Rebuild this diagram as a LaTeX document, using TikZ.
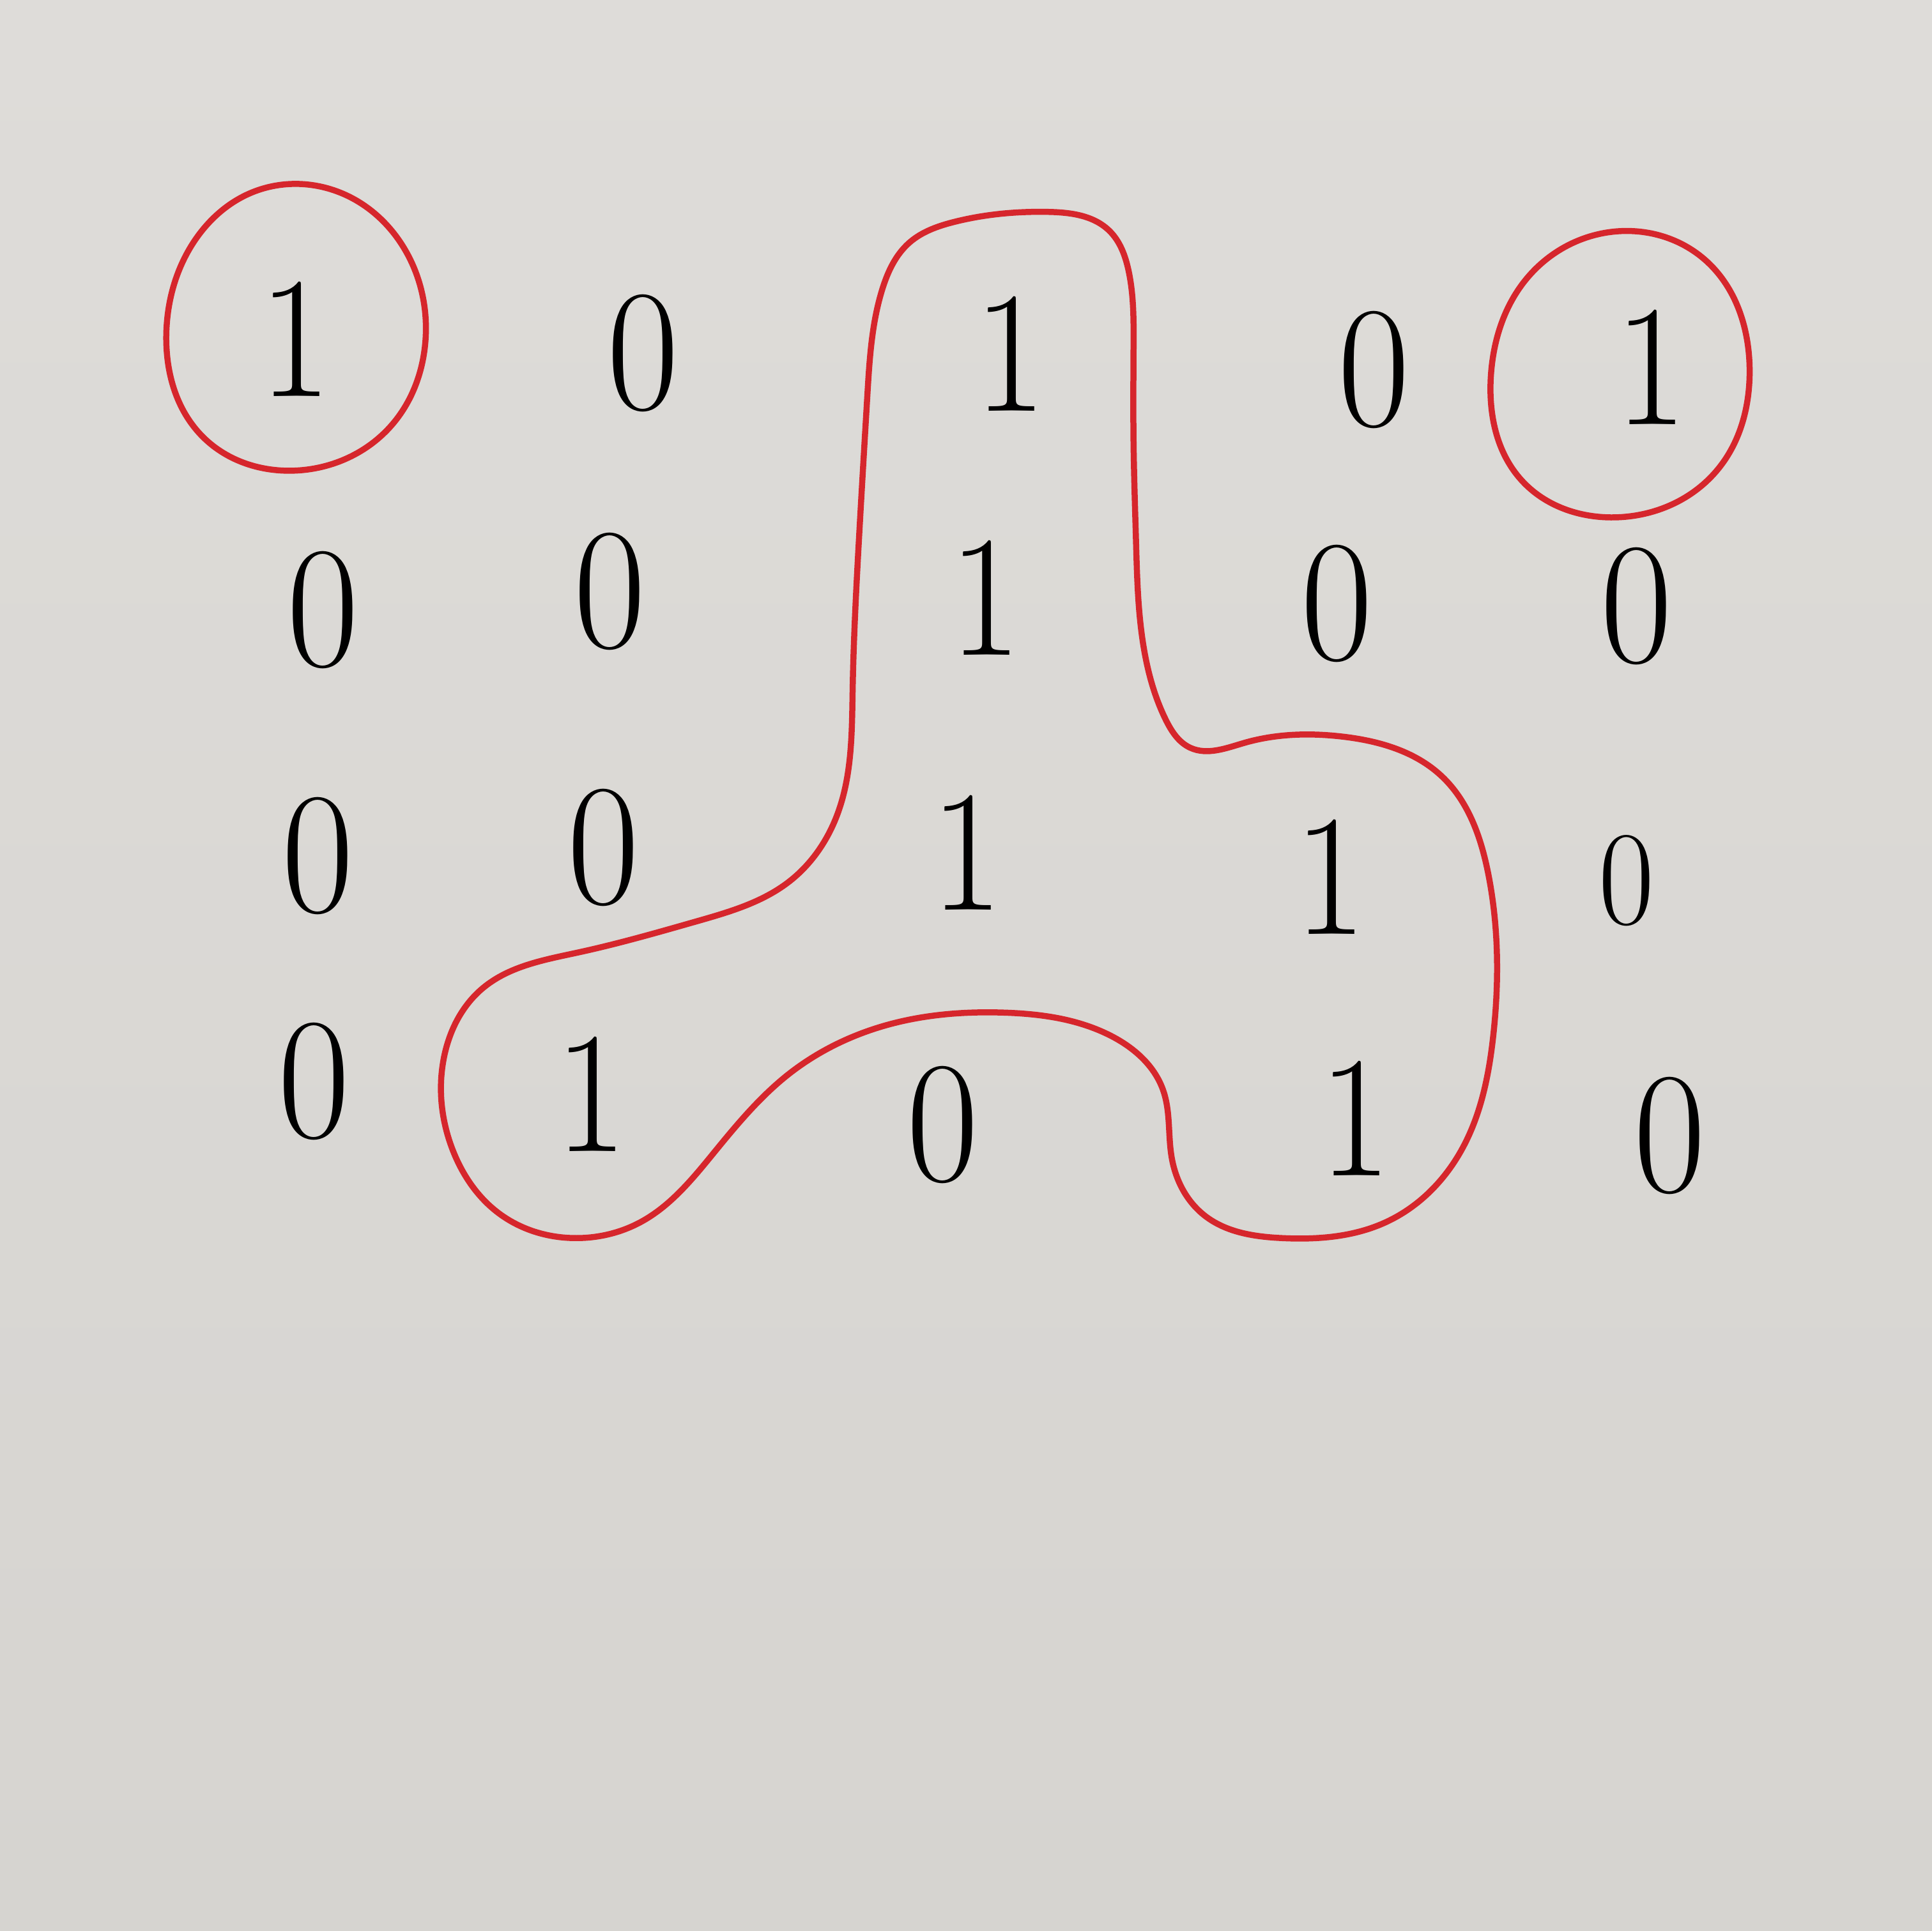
\documentclass[tikz,border=0pt]{standalone}
\usetikzlibrary{hobby}
\begin{document}
\begin{tikzpicture}[x=0.01cm,y=-0.01cm,
  digit/.style={inner sep=0pt,xscale=0.9,font=\fontsize{40}{46}\selectfont},
  small/.style={font=\fontsize{31}{36}\selectfont},
  pen/.style={draw=penred,line width=1.4pt,line join=round}]
\definecolor{penred}{RGB}{214,38,44}
\definecolor{papertop}{RGB}{222,220,217}
\definecolor{paperbot}{RGB}{214,212,208}
\useasboundingbox (0,0) rectangle (1568,1567);
\shade[top color=papertop,bottom color=paperbot] (0,0) rectangle (1568,1567);
% digits
\node[digit] (d11) at (240,275) {1};
\node[digit] (d12) at (522,287) {0};
\node[digit] (d13) at (820,287) {1};
\node[digit] (d14) at (1115,300) {0};
\node[digit] (d15) at (1340,298) {1};
\node[digit] (d21) at (262,495) {0};
\node[digit] (d22) at (495,480) {0};
\node[digit] (d23) at (800,485) {1};
\node[digit] (d24) at (1085,490) {0};
\node[digit] (d25) at (1328,492) {0};
\node[digit] (d31) at (258,695) {0};
\node[digit] (d32) at (490,688) {0};
\node[digit] (d33) at (785,692) {1};
\node[digit] (d34) at (1080,712) {1};
\node[digit,small] (d35) at (1320,715) {0};
\node[digit] (d41) at (255,878) {0};
\node[digit] (d42) at (480,888) {1};
\node[digit] (d43) at (765,913) {0};
\node[digit] (d44) at (1100,908) {1};
\node[digit] (d45) at (1355,922) {0};
% red outlines
\draw[pen,use Hobby shortcut,closed=true]
 (205,156)..(280,158)..(330,205)..(345,280)..(318,345)..(240,382)
 ..(165,355)..(135,270)..(155,200);
\draw[pen,use Hobby shortcut,closed=true]
 (1310,188)..(1385,212)..(1420,300)..(1395,380)..(1310,420)
 ..(1235,390)..(1210,305)..(1240,225);
\draw[pen,use Hobby shortcut,closed=true]
 (716,235)..(738,197)..(775,180)..(850,172)..(900,187)..(916,220)
 ..(920,280)..(920,360)..(922,440)..(929,530)..(946,584)..(966,607)..(1010,603)
 ..(1090,598)..(1170,630)..(1208,710)..(1212,840)..(1187,932)..(1125,992)
 ..(1040,1005)..(978,987)..(951,940)..(944,885)..(900,840)..(815,822)
 ..(720,832)..(640,872)..(580,935)..(520,992)..(470,1005)..(405,985)
 ..(368,935)..(360,860)..(392,802)..(470,773)..(565,748)..(640,716)
 ..(680,660)..(692,560)..(697,440)..(704,320);
\end{tikzpicture}
\end{document}
